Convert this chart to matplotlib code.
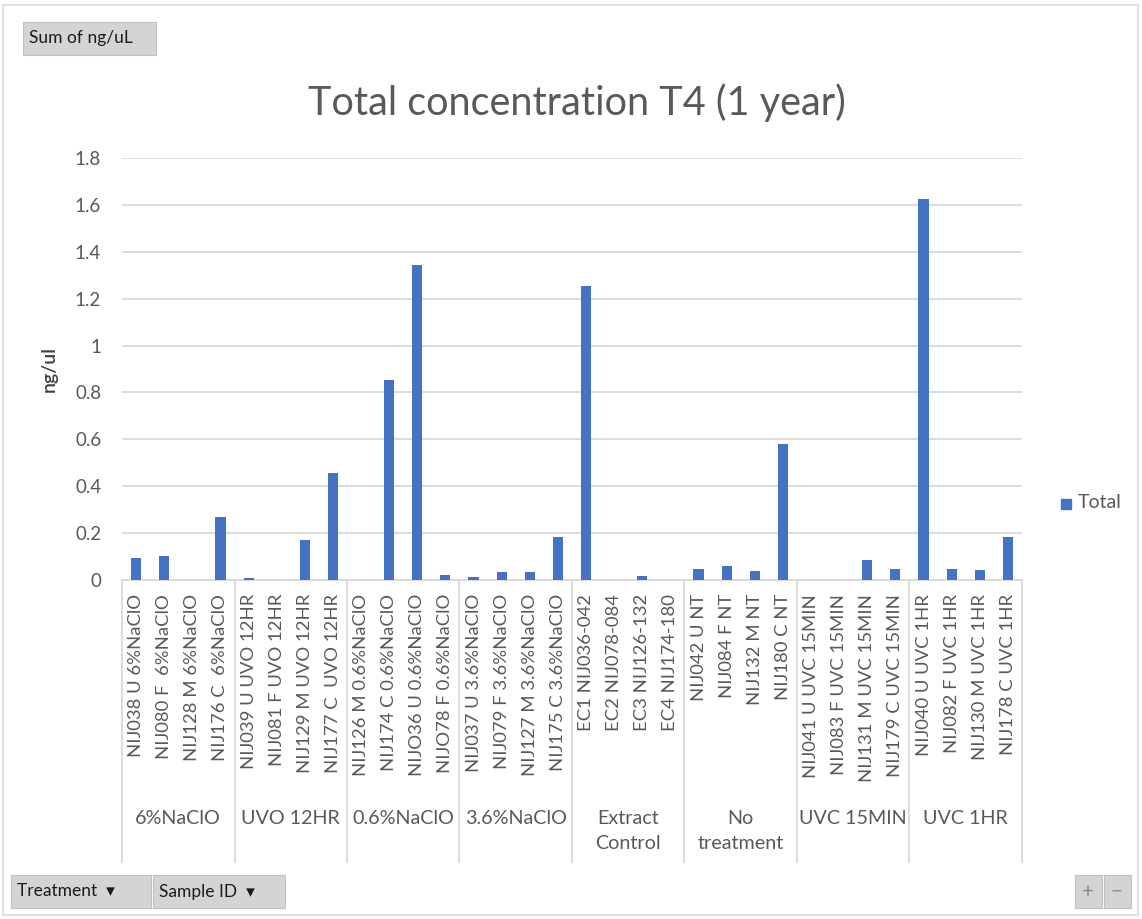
import numpy as np
import matplotlib
matplotlib.use("Agg")
import matplotlib.pyplot as plt
from matplotlib.patches import Rectangle
from matplotlib.transforms import blended_transform_factory

plt.rcParams['font.family'] = ['Lato', 'DejaVu Sans']

# data
treatments = ["6%NaClO", "UVO 12HR", "0.6%NaClO", "3.6%NaClO",
              "Extract\nControl", "No\ntreatment", "UVC 15MIN", "UVC 1HR"]
sample_ids = [
    "NIJ038 U 6%NaClO", "NIJ080 F  6%NaClO", "NIJ128 M 6%NaClO", "NIJ176 C  6%NaClO",
    "NIJ039 U UVO 12HR", "NIJ081 F UVO 12HR", "NIJ129 M UVO 12HR", "NIJ177 C  UVO 12HR",
    "NIJ126 M 0.6%NaClO", "NIJ174 C 0.6%NaClO", "NIJO36 U 0.6%NaClO", "NIJO78 F 0.6%NaClO",
    "NIJ037 U 3.6%NaClO", "NIJ079 F 3.6%NaClO", "NIJ127 M 3.6%NaClO", "NIJ175 C 3.6%NaClO",
    "EC1 NIJ036-042", "EC2 NIJ078-084", "EC3 NIJ126-132", "EC4 NIJ174-180",
    "NIJ042 U NT", "NIJ084 F NT", "NIJ132 M NT", "NIJ180 C NT",
    "NIJ041 U UVC 15MIN", "NIJ083 F UVC 15MIN", "NIJ131 M UVC 15MIN", "NIJ179 C UVC 15MIN",
    "NIJ040 U UVC 1HR", "NIJ082 F UVC 1HR", "NIJ130 M UVC 1HR", "NIJ178 C UVC 1HR",
]
total = [
    0.094, 0.104, 0.0, 0.267,
    0.009, 0.0, 0.171, 0.457,
    0.0, 0.852, 1.345, 0.023,
    0.012, 0.034, 0.034, 0.185,
    1.255, 0.0, 0.017, 0.0,
    0.048, 0.059, 0.037, 0.582,
    0.0, 0.0, 0.084, 0.048,
    1.623, 0.048, 0.043, 0.185,
]
per_group = 4

W, H = 1142, 919
txt = "#595959"
grid = "#d9d9d9"
blue = "#4472c4"

fig = plt.figure(figsize=(W / 100, H / 100), dpi=100)
fig.patch.set_facecolor("white")

# outer chart border
fig.add_artist(Rectangle((3 / W, 4 / H), (W - 7) / W, (H - 9) / H, transform=fig.transFigure,
                         fill=False, edgecolor="#d9d9d9", lw=1.2))

x0, x1, ytop, ybot = 122, 1022, 158, 580
ax = fig.add_axes([x0 / W, 1 - ybot / H, (x1 - x0) / W, (ybot - ytop) / H])
n = len(total)
x = np.arange(n)
ax.bar(x, total, width=0.36, color=blue, zorder=3, label="Total")
ax.set_xlim(-0.5, n - 0.5)
ax.set_ylim(0, 1.8)
ax.set_yticks(np.arange(0, 1.81, 0.2))
ax.set_yticklabels(["0", "0.2", "0.4", "0.6", "0.8", "1", "1.2", "1.4", "1.6", "1.8"])
ax.yaxis.grid(True, color=grid, lw=1.3, zorder=0)
for s in ["top", "right", "left"]:
    ax.spines[s].set_visible(False)
ax.spines["bottom"].set_color(grid)
ax.spines["bottom"].set_linewidth(1.3)
ax.tick_params(axis="y", length=0, labelsize=13.5, labelcolor=txt, pad=15)
ax.set_xticks(x)
ax.set_xticklabels(sample_ids, rotation=90, fontsize=13.3, color=txt)
ax.tick_params(axis="x", length=0, pad=10)
ax.set_ylabel("ng/ul", fontsize=14, color="#404040", labelpad=12, fontweight="semibold")

# group dividers and labels
trans = blended_transform_factory(ax.transData, ax.transAxes)
axh = ybot - ytop
depth = -(862 - ybot) / axh
for g in range(len(treatments) + 1):
    xb = g * per_group - 0.5
    ax.plot([xb, xb], [0, depth], transform=trans, color=grid, lw=1.3, clip_on=False)
for g, name in enumerate(treatments):
    xc = g * per_group + (per_group - 1) / 2
    ax.text(xc, -(810 - ybot) / axh, name, transform=trans, ha="center", va="top",
            fontsize=14.2, color=txt, linespacing=1.6)

fig.text(577 / W, 1 - 103 / H, "Total concentration T4 (1 year)",
         ha="center", va="center", fontsize=28.5, color=txt)

# legend
fig.add_artist(Rectangle((1061 / W, 1 - 509 / H), 10 / W, 10 / H, transform=fig.transFigure,
                         color=blue))
fig.text(1078 / W, 1 - 503 / H, "Total", ha="left", va="center", fontsize=14, color=txt)

# pivot buttons
def button(xa, ya, xb, yb, label, size=12.5):
    fig.add_artist(Rectangle((xa / W, 1 - yb / H), (xb - xa) / W, (yb - ya) / H,
                             transform=fig.transFigure, facecolor="#d4d4d4", edgecolor="#c0c0c0", lw=0.8))
    fig.text((xa + 6) / W, 1 - (ya + yb) / 2 / H, label, ha="left", va="center",
             fontsize=size, color="#1a1a1a")

button(23, 22, 156, 55, "Sum of ng/uL")
button(11, 875, 151, 908, "Treatment  \u25be")
button(153, 875, 285, 908, "Sample ID  \u25be")
fig.add_artist(Rectangle((1075 / W, 1 - 908 / H), 27 / W, 33 / H, transform=fig.transFigure,
                         facecolor="#d4d4d4", edgecolor="#c0c0c0", lw=0.8))
fig.add_artist(Rectangle((1104 / W, 1 - 908 / H), 27 / W, 33 / H, transform=fig.transFigure,
                         facecolor="#d4d4d4", edgecolor="#c0c0c0", lw=0.8))
fig.text(1088 / W, 1 - 892 / H, "+", ha="center", va="center", fontsize=15, color="#8c8c8c")
fig.text(1117 / W, 1 - 892 / H, "\u2212", ha="center", va="center", fontsize=15, color="#8c8c8c")

fig.savefig("out.png", dpi=100)
